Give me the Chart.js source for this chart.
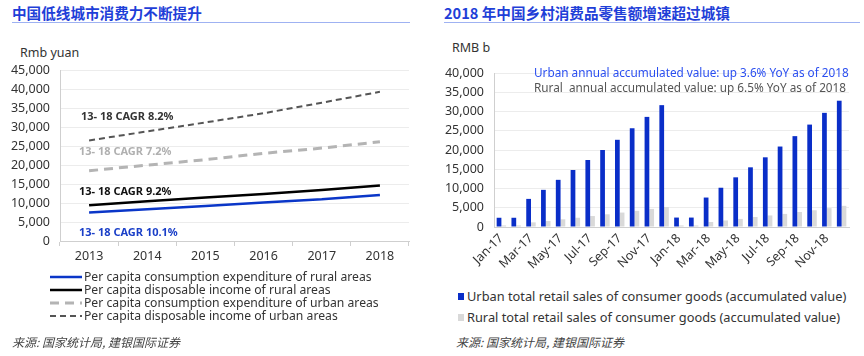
<!DOCTYPE html>
<html><head><meta charset="utf-8">
<script src="https://cdn.jsdelivr.net/npm/chart.js@4"></script>
<style>
body{margin:0;width:864px;height:356px;background:#fff;position:relative;overflow:hidden;font-family:"Noto Sans",sans-serif;color:#333;}
.abs{position:absolute;white-space:nowrap;line-height:1;}
.title{font-family:"Noto Sans CJK SC";font-weight:bold;font-size:14.6px;color:#1f3fd8;}
.rule{position:absolute;height:1px;background:#9fb2f2;}
.unit{font-size:12.5px;color:#333;}
.ann{font-size:11px;font-weight:bold;}
.leg{font-size:12.2px;color:#333;}
.src{font-family:"Noto Sans CJK SC";font-style:italic;font-size:12px;color:#444;}
canvas{position:absolute;}
</style></head>
<body>
<div class="abs title" style="left:12px;top:6px;">中国低线城市消费力不断提升</div>
<div class="rule" style="left:12px;top:22px;width:398px;"></div>
<div class="abs title" style="left:444px;top:6px;">2018 年中国乡村消费品零售额增速超过城镇</div>
<div class="rule" style="left:444px;top:22px;width:416px;"></div>
<div class="abs unit" style="left:20px;top:47px;">Rmb yuan</div>
<div class="abs unit" style="left:452px;top:42px;">RMB b</div>

<canvas id="c1" width="420" height="210" style="left:0;top:60px;"></canvas>
<canvas id="c2" width="428" height="225" style="left:432px;top:60px;"></canvas>

<div class="abs ann" style="left:81px;top:110px;color:#333;">13- 18 CAGR 8.2%</div>
<div class="abs ann" style="left:79px;top:145px;color:#b0b0b0;">13- 18 CAGR 7.2%</div>
<div class="abs ann" style="left:79px;top:185px;color:#111;">13- 18 CAGR 9.2%</div>
<div class="abs ann" style="left:79px;top:226px;color:#1a3fc8;">13- 18 CAGR 10.1%</div>

<div class="abs" style="left:534px;top:67px;font-size:11.75px;color:#2a4ef0;">Urban annual accumulated value: up 3.6% YoY as of 2018</div>
<div class="abs" style="left:534px;top:82px;font-size:11.75px;color:#555;">Rural&nbsp; annual accumulated value: up 6.5% YoY as of 2018</div>

<div id="leg1"></div>

<div class="abs" style="left:458px;top:290px;font-size:12.8px;"><span style="display:inline-block;width:6px;height:7px;background:#0a2ec8;margin-right:3px;vertical-align:1px;"></span>Urban total retail sales of consumer goods (accumulated value)</div>
<div class="abs" style="left:458px;top:311px;font-size:12.8px;"><span style="display:inline-block;width:6px;height:7px;background:#d9d9d9;margin-right:3px;vertical-align:1px;"></span>Rural total retail sales of consumer goods (accumulated value)</div>

<div class="abs src" style="left:12px;top:336px;">来源: 国家统计局, 建银国际证券</div>
<div class="abs src" style="left:456px;top:336px;">来源: 国家统计局, 建银国际证券</div>

<script>
// ---- Left chart data ----
const years = ['2013','2014','2015','2016','2017','2018'];
const ruralConsumption = [7485, 8383, 9223, 10130, 10955, 12124];
const ruralIncome = [9430, 10489, 11422, 12363, 13432, 14617];
const urbanConsumption = [18488, 19968, 21392, 23079, 24445, 26112];
const urbanIncome = [26467, 28844, 31195, 33616, 36396, 39251];
const leftSeriesNames = [
  'Per capita consumption expenditure of rural areas',
  'Per capita disposable income of rural areas',
  'Per capita consumption expenditure of urban areas',
  'Per capita disposable income of urban areas'
];

// ---- Right chart data ----
const months = ['Jan-17','Feb-17','Mar-17','Apr-17','May-17','Jun-17','Jul-17','Aug-17','Sep-17','Oct-17','Nov-17','Dec-17',
                'Jan-18','Feb-18','Mar-18','Apr-18','May-18','Jun-18','Jul-18','Aug-18','Sep-18','Oct-18','Nov-18','Dec-18'];
const urbanRetail = [2400, 2400, 7300, 9650, 12250, 14800, 17400, 20000, 22650, 25650, 28600, 31650,
                     2450, 2450, 7650, 10200, 12900, 15500, 18100, 20900, 23600, 26600, 29650, 32800];
const ruralRetail = [400, 400, 1200, 1550, 2000, 2400, 2850, 3300, 3750, 4200, 4700, 5200,
                     400, 400, 1300, 1700, 2100, 2600, 3000, 3400, 3900, 4350, 4900, 5500];

const tickFont = {family:'"Noto Sans", sans-serif', size:12.5};
const fmt = v => Number(v).toLocaleString('en-US');

const leftStyles = [
  {color:'#0a36c8', width:2.5, dash:[]},
  {color:'#000000', width:2.5, dash:[]},
  {color:'#b4b4b4', width:3, dash:[9,6]},
  {color:'#555555', width:2, dash:[6,4]}
];
const leftData = [ruralConsumption, ruralIncome, urbanConsumption, urbanIncome];

new Chart(document.getElementById('c1'), {
  type:'line',
  data:{labels:years, datasets:leftData.map((d,i)=>({
    label:leftSeriesNames[i], data:d, borderColor:leftStyles[i].color, borderWidth:leftStyles[i].width,
    borderDash:leftStyles[i].dash, pointRadius:0, tension:0, fill:false
  }))},
  options:{
    responsive:false, animation:false,
    layout:{padding:{left:0,right:11,top:10,bottom:0}},
    plugins:{legend:{display:false}, tooltip:{enabled:false}},
    scales:{
      x:{offset:true,
         grid:{offset:true, drawOnChartArea:false, drawTicks:true, tickLength:5, color:'#cfcfcf'},
         border:{color:'#cfcfcf'},
         ticks:{font:tickFont, color:'#333', padding:3},
         afterFit(s){s.height=29; s.paddingLeft=0; s.paddingRight=0;}},
      y:{min:0, max:45000,
         ticks:{stepSize:5000, font:tickFont, color:'#333', padding:10, callback:fmt},
         grid:{color:'#ececec', drawTicks:false},
         border:{color:'#cfcfcf'},
         afterFit(s){s.width=60; s.paddingTop=0; s.paddingBottom=0;}}
    }
  }
});

// left legend (HTML)
const leg1 = document.getElementById('leg1');
const rowsY = [278, 291, 304, 317];
leftSeriesNames.forEach((n,i)=>{
  const st = leftStyles[i];
  const div = document.createElement('div');
  div.className='abs leg';
  div.style.left='50px'; div.style.top=(rowsY[i]-7)+'px';
  div.innerHTML = `<svg width="32" height="10" style="vertical-align:-1px;margin-right:2px"><line x1="0" y1="5" x2="32" y2="5" stroke="${st.color}" stroke-width="${st.width}" stroke-dasharray="${st.dash.join(',')}"/></svg>${n}`;
  leg1.appendChild(div);
});

new Chart(document.getElementById('c2'), {
  type:'bar',
  data:{labels:months, datasets:[
    {label:'Urban total retail sales of consumer goods (accumulated value)', data:urbanRetail, backgroundColor:'#0a2ec8', categoryPercentage:0.64, barPercentage:1},
    {label:'Rural total retail sales of consumer goods (accumulated value)', data:ruralRetail, backgroundColor:'#d9d9d9', categoryPercentage:0.64, barPercentage:1}
  ]},
  options:{
    responsive:false, animation:false,
    layout:{padding:{left:0,right:11,top:13,bottom:0}},
    plugins:{legend:{display:false}, tooltip:{enabled:false}},
    scales:{
      x:{grid:{display:false, drawTicks:false},
         border:{color:'#cfcfcf'},
         ticks:{font:tickFont, color:'#333', autoSkip:false, minRotation:45, maxRotation:45, padding:4,
                callback:(v,i)=> i%2===0 ? months[i] : ''},
         afterFit(s){s.height=58; s.paddingLeft=0; s.paddingRight=0;}},
      y:{min:0, max:40000,
         ticks:{stepSize:5000, font:tickFont, color:'#333', padding:10, callback:fmt},
         grid:{color:'#ececec', drawTicks:false},
         border:{color:'#cfcfcf'},
         afterFit(s){s.width=62; s.paddingTop=0; s.paddingBottom=0;}}
    }
  }
});
</script>
</body></html>
